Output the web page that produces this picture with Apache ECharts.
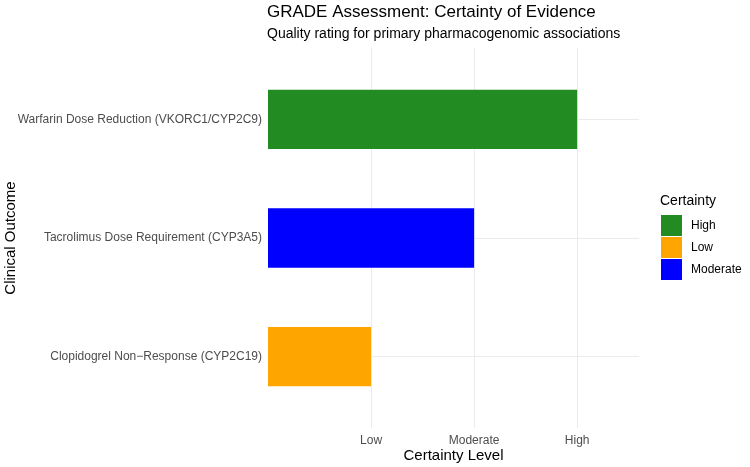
<!DOCTYPE html>
<html>
<head>
<meta charset="utf-8">
<script src="https://cdn.jsdelivr.net/npm/echarts@6/dist/echarts.min.js"></script>
<style>html,body{margin:0;padding:0;background:#fff}#c{width:750px;height:467px}</style>
</head>
<body>
<div id="c"></div>
<script>
// Data (bottom to top on the y axis)
const categories = ['Clopidogrel Non\u2212Response (CYP2C19)', 'Tacrolimus Dose Requirement (CYP3A5)', 'Warfarin Dose Reduction (VKORC1/CYP2C9)'];
const certainty = ['Low', 'Moderate', 'High'];
const scores = [1, 2, 3];
const tickLabels = ['Low', 'Moderate', 'High']; // at x = 1, 2, 3
const legendOrder = ['High', 'Low', 'Moderate'];
const levelColors = ['#228B22', '#FFA500', '#0000FF'];

const FONT = "'Liberation Sans', Arial, sans-serif";
const chart = echarts.init(document.getElementById('c'), null, {renderer: 'canvas'});

const series = legendOrder.map((lvl, k) => ({
  type: 'bar',
  name: lvl,
  stack: 's',
  xAxisIndex: 1,
  yAxisIndex: 1,
  barWidth: '50%',
  z: 3,
  itemStyle: {color: levelColors[k]},
  data: categories.map((c, i) => certainty[i] === lvl ? scores[i] : '-')
}));
series[0].markLine = {
  silent: true,
  z: 1,
  symbol: 'none',
  animation: false,
  label: {show: false},
  lineStyle: {color: '#ebebeb', width: 1, type: 'solid'},
  data: categories.map(c => ({yAxis: c}))
};

chart.setOption({
  animation: false,
  textStyle: {fontFamily: FONT},
  title: [
    {text: 'GRADE Assessment: Certainty of Evidence', left: 267, top: 4, padding: 0,
     textStyle: {fontFamily: FONT, fontSize: 17, fontWeight: 'normal', color: '#000'}},
    {text: 'Quality rating for primary pharmacogenomic associations', left: 267, top: 27, padding: 0,
     textStyle: {fontFamily: FONT, fontSize: 14, fontWeight: 'normal', color: '#000'}},
    {text: 'Certainty', left: 660, top: 194, padding: 0,
     textStyle: {fontFamily: FONT, fontSize: 14, fontWeight: 'normal', color: '#000'}}
  ],
  legend: {
    orient: 'vertical', left: 661, top: 215, padding: 0,
    itemWidth: 21, itemHeight: 21, itemGap: 1,
    icon: 'rect',
    data: legendOrder,
    textStyle: {fontFamily: FONT, fontSize: 12, color: '#000', padding: [0, 0, 0, 4]}
  },
  grid: [
    {left: 268, right: 111, top: 48, bottom: 39, containLabel: false, outerBoundsMode: 'none'},
    {left: 268, right: 111, top: 60, bottom: 51, containLabel: false, outerBoundsMode: 'none'}
  ],
  xAxis: [
    {type: 'value', gridIndex: 0, min: 0, max: 3.6, interval: 1,
     name: 'Certainty Level', nameLocation: 'middle', nameGap: 20, nameMoveOverlap: false,
     nameTextStyle: {fontFamily: FONT, fontSize: 15, color: '#000'},
     axisLine: {show: false}, axisTick: {show: false},
     axisLabel: {fontFamily: FONT, fontSize: 12, color: '#4d4d4d', margin: 7,
       formatter: v => (Number.isInteger(v) && v >= 1 && v <= 3) ? tickLabels[v - 1] : ''},
     splitLine: {show: true, lineStyle: {width: 1, color: ['rgba(0,0,0,0)', '#ebebeb', '#ebebeb', '#ebebeb', 'rgba(0,0,0,0)']}}
    },
    {type: 'value', gridIndex: 1, min: 0, max: 3.6, interval: 1, show: false,
     splitLine: {show: false}}
  ],
  yAxis: [
    {type: 'value', gridIndex: 0, show: false, splitLine: {show: false}},
    {type: 'category', gridIndex: 1, data: categories,
     name: 'Clinical Outcome', nameLocation: 'middle', nameGap: 250, nameMoveOverlap: false,
     nameTextStyle: {fontFamily: FONT, fontSize: 15, color: '#000'},
     axisLine: {show: false}, axisTick: {show: false},
     splitLine: {show: false},
     axisLabel: {fontFamily: FONT, fontSize: 12, color: '#4d4d4d', margin: 6}
    }
  ],
  series: series
});
</script>
</body>
</html>
